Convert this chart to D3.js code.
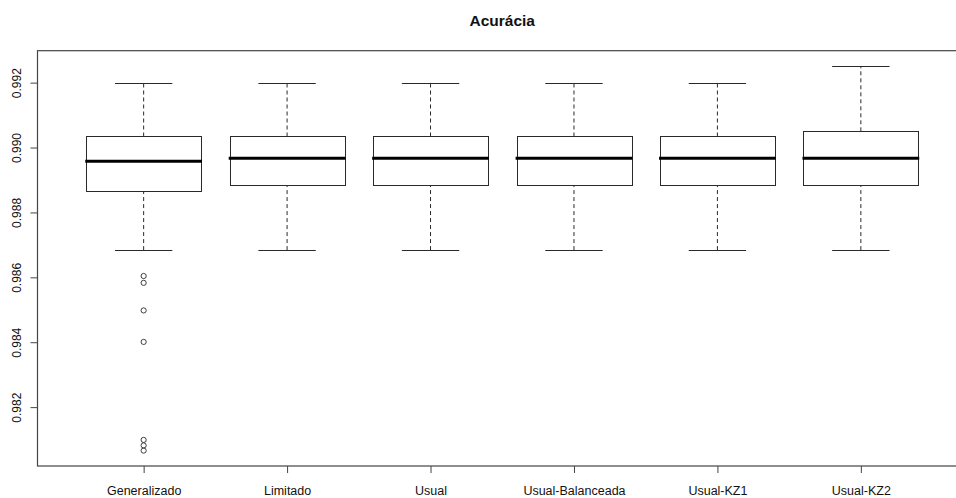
<!DOCTYPE html>
<html>
<head>
<meta charset="utf-8">
<script src="https://cdn.jsdelivr.net/npm/d3@7"></script>
<style>
  html, body { margin: 0; padding: 0; background: #fff; }
  svg { display: block; }
  text { font-family: "Liberation Sans", Arial, Helvetica, sans-serif; fill: #111; }
</style>
</head>
<body>
<svg id="chart" width="956" height="498"></svg>
<script>
// Box statistics per model (accuracy)
const categories = ["Generalizado", "Limitado", "Usual", "Usual-Balanceada", "Usual-KZ1", "Usual-KZ2"];
const lowerWhisker = [0.98684, 0.98684, 0.98684, 0.98684, 0.98684, 0.98684];
const q1           = [0.98866, 0.98884, 0.98884, 0.98884, 0.98884, 0.98884];
const medians      = [0.98958, 0.98967, 0.98967, 0.98967, 0.98967, 0.98967];
const q3           = [0.99034, 0.99034, 0.99034, 0.99034, 0.99034, 0.99050];
const upperWhisker = [0.99200, 0.99200, 0.99200, 0.99200, 0.99200, 0.99251];
// Outliers (category, value)
const outlierGroup  = ["Generalizado", "Generalizado", "Generalizado", "Generalizado", "Generalizado", "Generalizado", "Generalizado"];
const outlierValues = [0.98604, 0.98583, 0.98498, 0.98401, 0.98099, 0.98082, 0.98066];
const yTicks = [0.982, 0.984, 0.986, 0.988, 0.990, 0.992];
const title = "Acurácia";

const svg = d3.select("#chart");
const plot = { left: 37.5, right: 967, top: 50.7, bottom: 466 };

// x: one slot per category, plot region padded like R (0.26 .. n+0.74)
const n = categories.length;
const slot = (plot.right - plot.left) / (n - 1 + 1.48);
const x = d3.scalePoint()
  .domain(categories)
  .range([plot.left + 0.74 * slot, plot.right - 0.74 * slot]);
const step = x.step();
const boxW = 0.8 * step;

// y: data range extended by 4% on each side
const allVals = lowerWhisker.concat(upperWhisker, outlierValues);
const vMin = d3.min(allVals), vMax = d3.max(allVals);
const ext = (vMax - vMin) * 0.04;
const y = d3.scaleLinear()
  .domain([vMin - ext, vMax + ext])
  .range([plot.bottom, plot.top]);

const stroke = "#2a2a2a";

const boxes = categories.map((c, i) => ({
  c, lo: lowerWhisker[i], q1: q1[i], med: medians[i], q3: q3[i], hi: upperWhisker[i]
}));

const g = svg.append("g");

// whiskers (dashed)
g.selectAll("line.wlo").data(boxes).join("line")
  .attr("x1", d => x(d.c)).attr("x2", d => x(d.c))
  .attr("y1", d => y(d.lo)).attr("y2", d => y(d.q1))
  .attr("stroke", stroke).attr("stroke-width", 1).attr("stroke-dasharray", "4,3");
g.selectAll("line.whi").data(boxes).join("line")
  .attr("x1", d => x(d.c)).attr("x2", d => x(d.c))
  .attr("y1", d => y(d.q3)).attr("y2", d => y(d.hi))
  .attr("stroke", stroke).attr("stroke-width", 1).attr("stroke-dasharray", "4,3");

// staples
["lo", "hi"].forEach(k => {
  g.append("g").selectAll("line").data(boxes).join("line")
    .attr("x1", d => x(d.c) - boxW / 4).attr("x2", d => x(d.c) + boxW / 4)
    .attr("y1", d => Math.round(y(d[k])) + 0.5).attr("y2", d => Math.round(y(d[k])) + 0.5)
    .attr("stroke", stroke).attr("stroke-width", 1);
});

// boxes
g.append("g").selectAll("rect").data(boxes).join("rect")
  .attr("x", d => Math.round(x(d.c) - boxW / 2) + 0.5)
  .attr("width", Math.round(boxW))
  .attr("y", d => Math.round(y(d.q3)) + 0.5)
  .attr("height", d => Math.round(y(d.q1)) - Math.round(y(d.q3)))
  .attr("fill", "none").attr("stroke", stroke).attr("stroke-width", 1);

// medians
g.append("g").selectAll("line").data(boxes).join("line")
  .attr("x1", d => x(d.c) - boxW / 2 - 1).attr("x2", d => x(d.c) + boxW / 2 + 1)
  .attr("y1", d => y(d.med)).attr("y2", d => y(d.med))
  .attr("stroke", "#000").attr("stroke-width", 3);

// outliers
g.append("g").selectAll("circle").data(outlierValues.map((v, i) => ({ c: outlierGroup[i], v })))
  .join("circle")
  .attr("cx", d => x(d.c)).attr("cy", d => y(d.v)).attr("r", 2.6)
  .attr("fill", "none").attr("stroke", stroke).attr("stroke-width", 0.9);

// frame
svg.append("rect")
  .attr("x", plot.left).attr("y", plot.top)
  .attr("width", plot.right - plot.left).attr("height", plot.bottom - plot.top)
  .attr("fill", "none").attr("stroke", "#444").attr("stroke-width", 1.2);

// x axis
const xAxis = svg.append("g")
  .attr("transform", `translate(0,${plot.bottom})`)
  .call(d3.axisBottom(x).tickSize(7).tickPadding(13));
xAxis.select(".domain").remove();
xAxis.selectAll(".tick line").attr("stroke", "#444");
xAxis.selectAll(".tick text")
  .attr("font-size", "12.5px").attr("fill", "#111")
  .style("font-family", '"Liberation Sans", Arial, sans-serif');

// y axis
const yAxis = svg.append("g")
  .attr("transform", `translate(${plot.left},0)`)
  .call(d3.axisLeft(y).tickValues(yTicks).tickFormat(d3.format(".3f")).tickSize(7));
yAxis.select(".domain").remove();
yAxis.selectAll(".tick line").attr("stroke", "#444");
yAxis.selectAll(".tick text")
  .attr("font-size", "12px").attr("fill", "#222")
  .attr("x", null).attr("dy", null)
  .attr("text-anchor", "middle")
  .attr("transform", "translate(-16.5,0) rotate(-90)")
  .style("font-family", '"Liberation Sans", Arial, sans-serif');

// title
svg.append("text")
  .attr("x", (plot.left + plot.right) / 2).attr("y", 26)
  .attr("text-anchor", "middle")
  .attr("font-size", "15.5px").attr("font-weight", "bold")
  .text(title);
</script>
</body>
</html>
